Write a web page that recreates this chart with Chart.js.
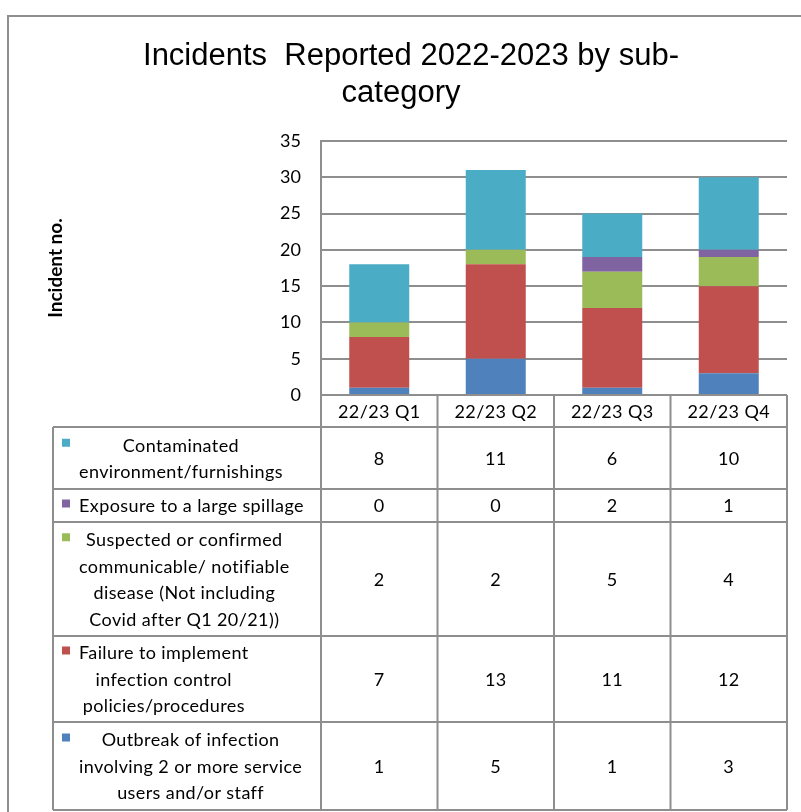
<!DOCTYPE html>
<html>
<head>
<meta charset="utf-8">
<title>Incidents Reported 2022-2023 by sub-category</title>
<script src="https://cdn.jsdelivr.net/npm/chart.js@4.4.0/dist/chart.umd.min.js"></script>
<style>
  html, body { margin: 0; padding: 0; background: #fff; }
  canvas { display: block; }
</style>
</head>
<body>
<canvas id="chart" width="801" height="812"></canvas>
<script>
// Quarters along the x axis
const quarters = ['22/23 Q1', '22/23 Q2', '22/23 Q3', '22/23 Q4'];

// Incidents per sub-category, one value per quarter
const outbreak = [1, 5, 1, 3];
const failure = [7, 13, 11, 12];
const suspected = [2, 2, 5, 4];
const exposure = [0, 0, 2, 1];
const contaminated = [8, 11, 6, 10];

// Y axis ticks
const yTicks = [0, 5, 10, 15, 20, 25, 30, 35];

// Row labels as wrapped in the data table
const outbreakLabel = ['Outbreak of infection', 'involving 2 or more service', 'users and/or staff'];
const failureLabel = ['Failure to implement', 'infection control', 'policies/procedures'];
const suspectedLabel = ['Suspected or confirmed', 'communicable/ notifiable', 'disease (Not including', 'Covid after Q1 20/21))'];
const exposureLabel = ['Exposure to a large spillage'];
const contaminatedLabel = ['Contaminated', 'environment/furnishings'];

const GRID = '#8e8e8e';
const FONT = 'Lato, "Noto Sans", sans-serif';

// Stack order, bottom to top
const series = [
  { label: outbreakLabel, data: outbreak, color: '#4F81BD', rowH: 88 },
  { label: failureLabel, data: failure, color: '#C0504D', rowH: 86 },
  { label: suspectedLabel, data: suspected, color: '#9BBB59', rowH: 114 },
  { label: exposureLabel, data: exposure, color: '#8064A2', rowH: 33 },
  { label: contaminatedLabel, data: contaminated, color: '#4BACC6', rowH: 62 }
];

// Title, outer frame and the data table under the plot
const tablePlugin = {
  id: 'dataTable',
  afterDraw(chart) {
    const ctx = chart.ctx;
    const area = chart.chartArea;
    const xs = chart.scales.x;
    const labelLeft = 53;
    const headerH = 32;

    // column edges follow the category scale
    const edges = [area.left];
    for (let i = 0; i < quarters.length - 1; i++) {
      edges.push((xs.getPixelForValue(i) + xs.getPixelForValue(i + 1)) / 2);
    }
    edges.push(area.right);

    ctx.save();

    // outer frame
    ctx.strokeStyle = GRID;
    ctx.lineWidth = 2;
    ctx.beginPath();
    ctx.moveTo(8, 830);
    ctx.lineTo(8, 16);
    ctx.lineTo(820, 16);
    ctx.stroke();

    // title
    ctx.fillStyle = '#000';
    ctx.font = '31px "Liberation Sans", Arial, sans-serif';
    ctx.textAlign = 'center';
    ctx.textBaseline = 'middle';
    ctx.fillText('Incidents  Reported 2022-2023 by sub-', 411, 56);
    ctx.fillText('category', 401, 93);

    // rows top to bottom
    const rows = series.slice().reverse();
    const top = area.bottom;
    let y = top + headerH;
    const rowTops = [];
    rows.forEach(r => { rowTops.push(y); y += r.rowH; });
    const bottom = y;

    // grid lines of the table
    ctx.strokeStyle = GRID;
    ctx.lineWidth = 2;
    ctx.beginPath();
    ctx.moveTo(area.left, top);
    ctx.lineTo(area.right, top);
    rowTops.concat([bottom]).forEach(ry => {
      ctx.moveTo(labelLeft, ry);
      ctx.lineTo(area.right, ry);
    });
    edges.forEach(ex => {
      ctx.moveTo(ex, top);
      ctx.lineTo(ex, bottom);
    });
    ctx.moveTo(labelLeft, rowTops[0]);
    ctx.lineTo(labelLeft, bottom);
    ctx.stroke();

    // header with quarter names
    ctx.fillStyle = '#000';
    ctx.font = '18px ' + FONT;
    ctx.letterSpacing = '0.4px';
    ctx.textAlign = 'center';
    ctx.textBaseline = 'middle';
    quarters.forEach((q, i) => {
      ctx.fillText(q, (edges[i] + edges[i + 1]) / 2, top + headerH / 2 + 1);
    });

    // row labels with legend keys, and values
    const lineH = 26.5;
    rows.forEach((r, ri) => {
      const rt = rowTops[ri];
      const mid = rt + r.rowH / 2;
      const firstY = mid - (r.label.length - 1) * lineH / 2;
      let maxW = 0;
      r.label.forEach(t => { maxW = Math.max(maxW, ctx.measureText(t).width); });
      const cx = 79 + maxW / 2;
      r.label.forEach((t, li) => {
        ctx.fillText(t, cx, firstY + li * lineH + 1);
      });
      ctx.fillStyle = r.color;
      ctx.fillRect(62, firstY - 6, 8, 8);
      ctx.fillStyle = '#000';
      r.data.forEach((v, i) => {
        ctx.fillText(String(v), (edges[i] + edges[i + 1]) / 2, mid + 1);
      });
    });

    ctx.restore();
  }
};

new Chart(document.getElementById('chart'), {
  type: 'bar',
  data: {
    labels: quarters,
    datasets: series.map(s => ({
      label: s.label.join(' '),
      data: s.data,
      backgroundColor: s.color,
      borderWidth: 0,
      categoryPercentage: 1,
      barPercentage: 0.515
    }))
  },
  options: {
    responsive: false,
    animation: false,
    layout: { padding: { left: 40, right: 14, top: 141, bottom: 417 } },
    plugins: {
      legend: { display: false },
      title: { display: false },
      tooltip: { enabled: false }
    },
    scales: {
      x: {
        stacked: true,
        display: false
      },
      y: {
        stacked: true,
        min: 0,
        max: 35,
        afterBuildTicks: scale => { scale.ticks = yTicks.map(v => ({ value: v })); },
        afterFit: scale => { scale.width = 321 - 40; },
        grid: { color: GRID, lineWidth: 2, drawTicks: false },
        border: { color: GRID, width: 2 },
        ticks: {
          padding: 20,
          color: '#000',
          font: { family: FONT, size: 18 }
        },
        title: {
          display: true,
          text: 'Incident no.',
          color: '#000',
          font: { family: FONT, size: 19, weight: 'bold' },
          padding: { top: 4, bottom: 4 }
        }
      }
    }
  },
  plugins: [tablePlugin]
});
</script>
</body>
</html>
